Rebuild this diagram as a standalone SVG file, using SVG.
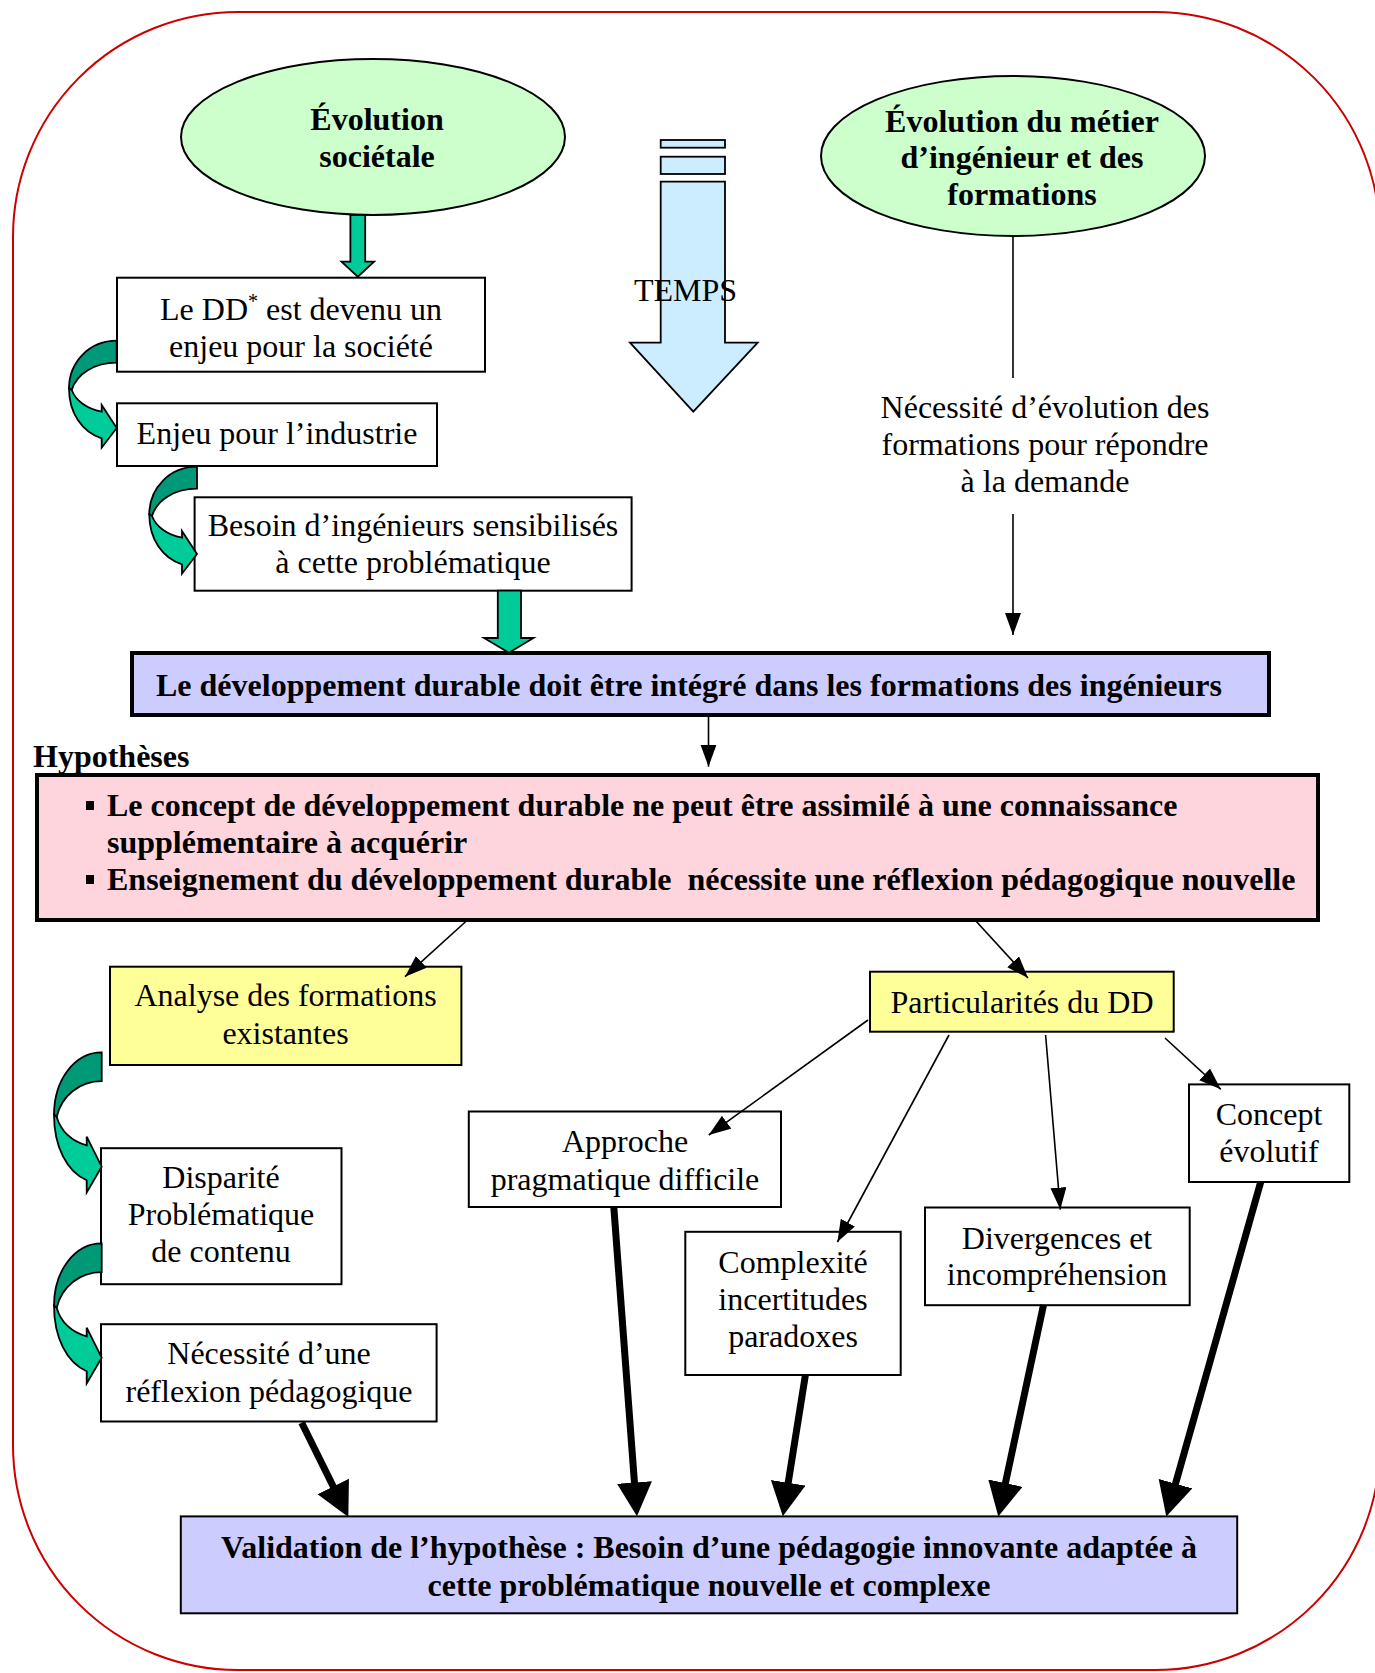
<svg xmlns="http://www.w3.org/2000/svg" xmlns:xlink="http://www.w3.org/1999/xlink" width="1375" height="1673" viewBox="0 0 1375 1673">
<style>
text{font-family:"Liberation Serif","Times New Roman",serif;font-size:32px;fill:#000}
.b{font-weight:bold}
.m{text-anchor:middle}
.box{fill:#fff;stroke:#000;stroke-width:2}
.yel{fill:#FFFF99;stroke:#000;stroke-width:2}
.blue{fill:#CCCCFF;stroke:#000;stroke-width:2}
.ell{fill:#CCFFCC;stroke:#000;stroke-width:2}
.thin{stroke:#000;stroke-width:1.6;fill:none}
.thick{stroke:#000;stroke-width:7;fill:none}
.garrow{fill:#00CC99;stroke:#000;stroke-width:1.8}
.gdark{fill:#009977;stroke:#000;stroke-width:1.8;vector-effect:non-scaling-stroke}
.glight{fill:#00CC99;stroke:#000;stroke-width:1.8;vector-effect:non-scaling-stroke}
</style>
<defs>
<marker id="ah" markerUnits="userSpaceOnUse" markerWidth="24" markerHeight="18" refX="22" refY="8" orient="auto">
<path d="M0,0 L22,8 L0,16 Z" fill="#000"/>
</marker>
<marker id="ahb" markerUnits="userSpaceOnUse" markerWidth="36" markerHeight="36" refX="24" refY="17.5" orient="auto">
<path d="M0,0 L34,17.5 L0,35 Z" fill="#000"/>
</marker>
<g id="curved">
<path class="gdark" d="M0,0 C-27,0 -47.7,21 -47.7,47.7 L-45,49.3 C-40,33 -22,22 0,22 Z"/>
<path class="glight" d="M-47.7,47.7 C-47.7,72 -35,91 -15,97.7 L-15,107 L0,87.3 L-15,64.4 L-15,71 C-30,68 -41,60 -45,49.3 Z"/>
</g>
</defs>

<rect id="frame" x="13" y="12" width="1367" height="1658" rx="225" ry="225" fill="none" stroke="#CC0000" stroke-width="2"/>

<g id="temps">
<rect x="660.7" y="140" width="64.3" height="7.7" fill="#CCECFF" stroke="#000" stroke-width="1.8"/>
<rect x="660.7" y="156.7" width="64.3" height="17.3" fill="#CCECFF" stroke="#000" stroke-width="1.8"/>
<path d="M660.7,181.7 L725,181.7 L725,342.7 L757.7,342.7 L693.3,411.7 L630,342.7 L660.7,342.7 Z" fill="#CCECFF" stroke="#000" stroke-width="1.8"/>
<text x="634" y="301">TEMPS</text>
</g>

<g id="evol-societale">
<ellipse class="ell" cx="373" cy="137" rx="192" ry="78"/>
<text class="b m" x="377" y="130">Évolution</text>
<text class="b m" x="377" y="167">sociétale</text>
</g>

<g id="evol-metier">
<ellipse class="ell" cx="1013" cy="156" rx="192" ry="80"/>
<text class="b m" x="1022" y="132">Évolution du métier</text>
<text class="b m" x="1022" y="168">d’ingénieur et des</text>
<text class="b m" x="1022" y="205">formations</text>
</g>

<g id="necessite-evolution">
<text class="m" x="1045" y="418">Nécessité d’évolution des</text>
<text class="m" x="1045" y="455">formations pour répondre</text>
<text class="m" x="1045" y="492">à la demande</text>
</g>

<g id="dd-enjeu">
<rect class="box" x="117" y="277.7" width="368" height="94"/>
<text class="m" x="301" y="320">Le DD<tspan font-size="20" dy="-12">*</tspan><tspan dy="12"> est devenu un</tspan></text>
<text class="m" x="301" y="357">enjeu pour la société</text>
</g>

<g id="enjeu-industrie">
<rect class="box" x="117" y="403.3" width="320" height="62.7"/>
<text class="m" x="277" y="444">Enjeu pour l’industrie</text>
</g>

<g id="besoin">
<rect class="box" x="194.6" y="497.3" width="437" height="93.4"/>
<text class="m" x="413" y="536">Besoin d’ingénieurs sensibilisés</text>
<text class="m" x="413" y="573">à cette problématique</text>
</g>

<g id="dd-integre">
<rect x="132" y="653" width="1137" height="62" fill="#CCCCFF" stroke="#000" stroke-width="4"/>
<text class="b m" x="689" y="696">Le développement durable doit être intégré dans les formations des ingénieurs</text>
</g>

<g id="hypotheses">
<text class="b" x="33" y="767">Hypothèses</text>
<rect x="37" y="775" width="1281" height="145" fill="#FFD5DD" stroke="#000" stroke-width="4"/>
<rect x="86" y="801" width="8" height="9" fill="#000"/>
<rect x="86" y="875" width="8" height="9" fill="#000"/>
<text class="b" x="107" y="816">Le concept de développement durable ne peut être assimilé à une connaissance</text>
<text class="b" x="107" y="853">supplémentaire à acquérir</text>
<text class="b" x="107" y="890" xml:space="preserve">Enseignement du développement durable  nécessite une réflexion pédagogique nouvelle</text>
</g>

<g id="analyse">
<rect class="yel" x="110" y="966.7" width="351.4" height="98.3"/>
<text class="m" x="285.5" y="1006">Analyse des formations</text>
<text class="m" x="285.5" y="1044">existantes</text>
</g>

<g id="particularites">
<rect class="yel" x="870" y="971.7" width="303.7" height="60"/>
<text class="m" x="1022" y="1013">Particularités du DD</text>
</g>

<g id="disparite">
<rect class="box" x="101" y="1148.2" width="240.5" height="136"/>
<text class="m" x="221" y="1188">Disparité</text>
<text class="m" x="221" y="1225">Problématique</text>
<text class="m" x="221" y="1262">de contenu</text>
</g>

<g id="necessite-reflexion">
<rect class="box" x="101" y="1324.2" width="335.6" height="97.3"/>
<text class="m" x="269" y="1364">Nécessité d’une</text>
<text class="m" x="269" y="1402">réflexion pédagogique</text>
</g>

<g id="approche">
<rect class="box" x="468.8" y="1111.5" width="312.2" height="95.5"/>
<text class="m" x="625" y="1152">Approche</text>
<text class="m" x="625" y="1190">pragmatique difficile</text>
</g>

<g id="complexite">
<rect class="box" x="685.3" y="1231.8" width="215.4" height="143.2"/>
<text class="m" x="793" y="1273">Complexité</text>
<text class="m" x="793" y="1310">incertitudes</text>
<text class="m" x="793" y="1347">paradoxes</text>
</g>

<g id="divergences">
<rect class="box" x="925" y="1207.5" width="264.7" height="97.7"/>
<text class="m" x="1057" y="1249">Divergences et</text>
<text class="m" x="1057" y="1285">incompréhension</text>
</g>

<g id="concept">
<rect class="box" x="1189" y="1084.4" width="160.3" height="97.6"/>
<text class="m" x="1269" y="1125">Concept</text>
<text class="m" x="1269" y="1162">évolutif</text>
</g>

<g id="validation">
<rect class="blue" x="180.8" y="1516.4" width="1056.4" height="96.9"/>
<text class="b m" x="709" y="1558">Validation de l’hypothèse : Besoin d’une pédagogie innovante adaptée à</text>
<text class="b m" x="709" y="1596">cette problématique nouvelle et complexe</text>
</g>

<g id="connectors">
<line class="thin" x1="1013" y1="236" x2="1013" y2="378"/>
<line class="thin" x1="1013" y1="514" x2="1013" y2="635" marker-end="url(#ah)"/>
<line class="thin" x1="708.5" y1="715" x2="708.5" y2="766.7" marker-end="url(#ah)"/>
<line class="thin" x1="467.5" y1="920" x2="405" y2="976.7" marker-end="url(#ah)"/>
<line class="thin" x1="975" y1="920" x2="1028" y2="978" marker-end="url(#ah)"/>
<line class="thin" x1="868" y1="1020" x2="708.8" y2="1135" marker-end="url(#ah)"/>
<line class="thin" x1="949" y1="1035" x2="837.4" y2="1242" marker-end="url(#ah)"/>
<line class="thin" x1="1045.6" y1="1035" x2="1060.3" y2="1209.6" marker-end="url(#ah)"/>
<line class="thin" x1="1165" y1="1038" x2="1220.8" y2="1089.3" marker-end="url(#ah)"/>
<line class="thick" x1="301.7" y1="1422.7" x2="343.9" y2="1508" marker-end="url(#ahb)"/>
<line class="thick" x1="613.8" y1="1207" x2="636.25" y2="1506.4" marker-end="url(#ahb)"/>
<line class="thick" x1="805.4" y1="1375" x2="784.4" y2="1506.5" marker-end="url(#ahb)"/>
<line class="thick" x1="1043.5" y1="1305" x2="1000.4" y2="1506.6" marker-end="url(#ahb)"/>
<line class="thick" x1="1260.7" y1="1182" x2="1169" y2="1506.8" marker-end="url(#ahb)"/>
<path class="garrow" d="M350.4,215 L365.2,215 L365.2,261.7 L374.1,261.7 L357.8,276.7 L341.5,261.7 L350.4,261.7 Z"/>
<path class="garrow" d="M497.8,590.7 L521,590.7 L521,638 L533.5,638 L508.9,652.7 L484,638 L497.8,638 Z"/>
<use xlink:href="#curved" href="#curved" transform="translate(116.7,340.7)"/>
<use xlink:href="#curved" href="#curved" transform="translate(197,466.7)"/>
<use xlink:href="#curved" href="#curved" transform="translate(101.7,1052.3) scale(1,1.31)"/>
<use xlink:href="#curved" href="#curved" transform="translate(101.7,1243.3) scale(1,1.31)"/>
</g>
</svg>
